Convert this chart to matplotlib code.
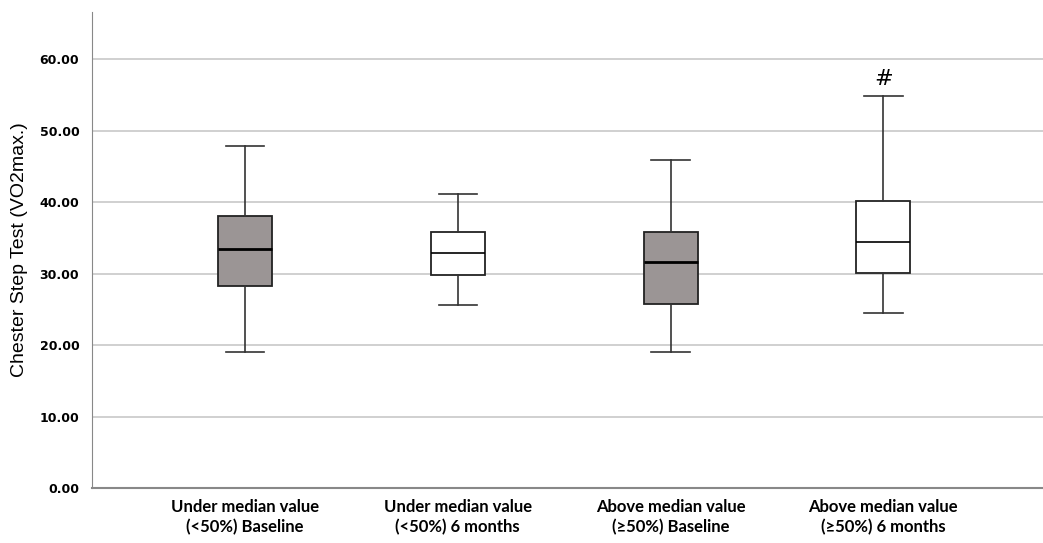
import matplotlib
matplotlib.use('Agg')
from matplotlib import pyplot as plt

labels = ['Under median value\n(<50%) Baseline', 'Under median value\n(<50%) 6 months',
          'Above median value\n(≥50%) Baseline', 'Above median value\n(≥50%) 6 months']
whislo = [19.0, 25.6, 19.0, 24.5]
q1 = [28.3, 29.8, 25.7, 30.1]
med = [33.4, 32.9, 31.6, 34.4]
q3 = [38.0, 35.8, 35.8, 40.1]
whishi = [47.8, 41.1, 45.9, 54.8]
fills = ['#9b9595', 'white', '#9b9595', 'white']

stats = []
for i in range(4):
    stats.append({'whislo': whislo[i], 'q1': q1[i], 'med': med[i], 'q3': q3[i],
                  'whishi': whishi[i], 'fliers': []})

fig = plt.figure(figsize=(10.43, 5.43), dpi=100)
ax = fig.add_axes([0.088, 0.101, 0.912, 0.877])

bp = ax.bxp(stats, positions=[1, 2, 3, 4], widths=0.254, patch_artist=True,
            showfliers=False, zorder=3)
for i, box in enumerate(bp['boxes']):
    box.set_facecolor(fills[i])
    box.set_edgecolor('#222222')
    box.set_linewidth(1.3)
for i, m in enumerate(bp['medians']):
    m.set_color('black')
    m.set_linewidth(2.0 if fills[i] != 'white' else 1.2)
for w in bp['whiskers']:
    w.set_color('#333333')
    w.set_linewidth(1.2)
for c in bp['caps']:
    c.set_color('#333333')
    c.set_linewidth(1.2)
    x0, x1 = c.get_xdata()
    mid = (x0 + x1) / 2
    c.set_xdata([mid - 0.09, mid + 0.09])

ax.text(4, whishi[3] + 1.0, '#', ha='center', va='bottom', fontsize=16)

ax.set_xlim(0.28, 4.75)
ax.set_ylim(0, 66.6)
ax.set_yticks([0, 10, 20, 30, 40, 50, 60])
ax.set_yticklabels(['%.2f' % v for v in [0, 10, 20, 30, 40, 50, 60]],
                   fontweight='bold', fontsize=9, family='DejaVu Sans')
ax.set_xticks([1, 2, 3, 4])
ax.set_xticklabels(labels, fontsize=12, fontweight='bold', family='Lato', linespacing=1.3)
ax.tick_params(axis='x', length=0, pad=8)
ax.tick_params(axis='y', length=0, pad=9)
ax.yaxis.grid(True, color='#c8c8c8', linewidth=1.2, zorder=0)
ax.set_axisbelow(True)
for s in ['top', 'right']:
    ax.spines[s].set_visible(False)
ax.spines['left'].set_color('#888888')
ax.spines['bottom'].set_color('#888888')
ax.spines['bottom'].set_linewidth(1.5)
ax.set_ylabel('Chester Step Test (VO2max.)', fontsize=14, family='Liberation Sans', labelpad=8)

fig.savefig('out.png', dpi=100)
